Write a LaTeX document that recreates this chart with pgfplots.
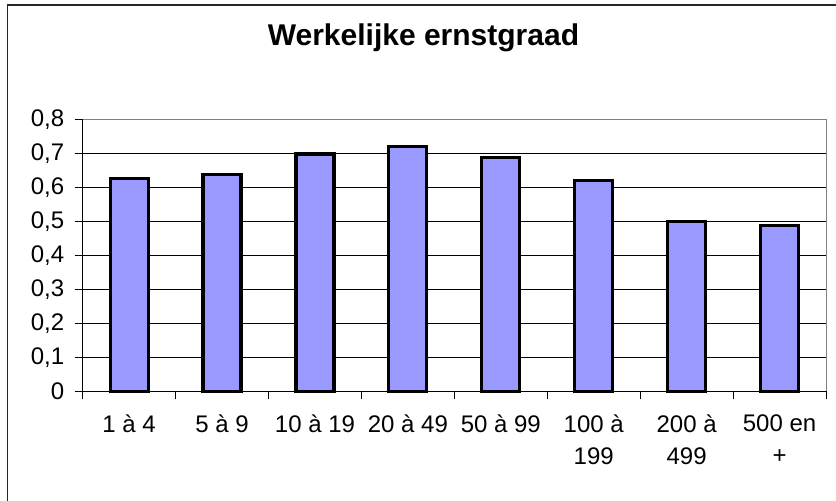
\documentclass[border=0pt]{standalone}
\usepackage{fontspec}
\setmainfont{Liberation Sans}
\usepackage{pgfplots}
\pgfplotsset{compat=1.18}
\definecolor{barblue}{HTML}{9999FF}
\begin{document}
\begin{tikzpicture}
\useasboundingbox (0,0) rectangle (836bp,501bp);
\draw[line width=1.8bp, black!85] (7.5bp,-2bp) -- (7.5bp,496bp) -- (840bp,496bp);
\begin{axis}[
  at={(82.7bp,109.7bp)}, anchor=south west,
  scale only axis, width=743.3bp, height=272bp,
  xmin=-0.5, xmax=7.5, ymin=0, ymax=0.8,
  axis x line*=bottom, axis y line*=left,
  axis line style={black, line width=1bp, -},
  xtick={0,1,2,3,4,5,6,7},
  xticklabels={1 à 4, 5 à 9, 10 à 19, 20 à 49, 50 à 99, 100 à\\199, 200 à\\499, 500 en\\+},
  minor xtick={-0.5,0.5,1.5,2.5,3.5,4.5,5.5,6.5,7.5},
  every major x tick/.append style={draw=none},
  ytick={0,0.1,0.2,0.3,0.4,0.5,0.6,0.7,0.8},
  tick align=outside,
  major tick length=8bp, minor tick length=8bp,
  tick style={black, line width=1bp},
  ymajorgrids, grid style={black, line width=1bp},
  tick label style={font=\fontsize{24bp}{32bp}\selectfont,
    /pgf/number format/use comma, /pgf/number format/fixed,
    /pgf/number format/precision=1, /pgf/number format/assume math mode=true},
  xticklabel style={align=center, yshift=-12bp},
  yticklabel style={xshift=-7bp},
  title={Werkelijke ernstgraad},
  title style={at={(0.4585,1.2485)}, anchor=base, font=\fontsize{30bp}{34bp}\selectfont\bfseries},
  ybar, bar width=38bp,
  clip=false,
]
\addplot[fill=barblue, draw=black, line width=3.2bp] coordinates {
  (0,0.625) (1,0.638) (2,0.698) (3,0.721) (4,0.688) (5,0.621) (6,0.500) (7,0.488)
};
\draw[gray, line width=1bp] (rel axis cs:0,1) -- (rel axis cs:1,1) -- (rel axis cs:1,0);
\end{axis}
\end{tikzpicture}
\end{document}
